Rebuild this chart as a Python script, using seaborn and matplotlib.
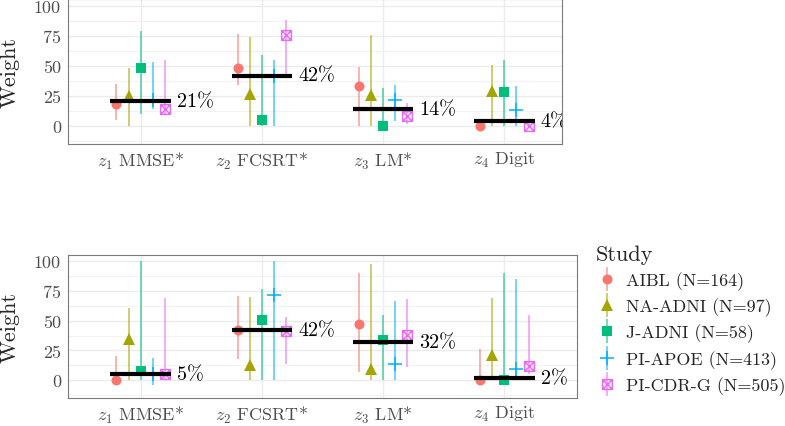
import matplotlib
matplotlib.use("Agg")
import matplotlib.pyplot as plt
import seaborn as sns
import numpy as np
import pandas as pd
from matplotlib.path import Path
from matplotlib.lines import Line2D
from matplotlib.legend_handler import HandlerTuple
from matplotlib.ticker import MultipleLocator

categories = ["$z_1$ MMSE*", "$z_2$ FCSRT*", "$z_3$ LM*", "$z_4$ Digit"]
studies = ["AIBL (N=164)", "NA-ADNI (N=97)", "J-ADNI (N=58)",
           "PI-APOE (N=413)", "PI-CDR-G (N=505)"]

# top panel: estimate, lower, upper per study (one value per category)
top_est = {"AIBL (N=164)": [18, 48, 33, 0],
           "NA-ADNI (N=97)": [25, 27, 26, 29],
           "J-ADNI (N=58)": [48, 5, 0, 28],
           "PI-APOE (N=413)": [22, 42, 22, 13],
           "PI-CDR-G (N=505)": [14, 76, 8, 0]}
top_lo = {"AIBL (N=164)": [5, 34, 0, 0],
          "NA-ADNI (N=97)": [0, 0, 0, 0],
          "J-ADNI (N=58)": [10, 0, 0, 0],
          "PI-APOE (N=413)": [14, 0, 4, 0],
          "PI-CDR-G (N=505)": [10, 43, 2, 0]}
top_hi = {"AIBL (N=164)": [35, 77, 49, 0],
          "NA-ADNI (N=97)": [48, 74, 76, 51],
          "J-ADNI (N=58)": [79, 59, 32, 55],
          "PI-APOE (N=413)": [53, 55, 34, 33],
          "PI-CDR-G (N=505)": [55, 88, 19, 4]}
top_mean = [21, 42, 14, 4]

# bottom panel
bot_est = {"AIBL (N=164)": [0, 42, 47, 0],
           "NA-ADNI (N=97)": [35, 13, 9, 21],
           "J-ADNI (N=58)": [8, 51, 34, 0],
           "PI-APOE (N=413)": [5, 72, 14, 9],
           "PI-CDR-G (N=505)": [5, 41, 38, 12]}
bot_lo = {"AIBL (N=164)": [0, 18, 7, 0],
          "NA-ADNI (N=97)": [0, 0, 0, 0],
          "J-ADNI (N=58)": [0, 0, 0, 0],
          "PI-APOE (N=413)": [-4, 0, 0, 0],
          "PI-CDR-G (N=505)": [0, 14, 11, 5]}
bot_hi = {"AIBL (N=164)": [20, 71, 90, 26],
          "NA-ADNI (N=97)": [61, 70, 98, 69],
          "J-ADNI (N=58)": [100, 77, 55, 90],
          "PI-APOE (N=413)": [19, 100, 67, 85],
          "PI-CDR-G (N=505)": [69, 53, 68, 55]}
bot_mean = [5, 42, 32, 2]

sns.set_theme(style="whitegrid")
plt.rcParams['font.family'] = ['cmr10', 'DejaVu Serif']
plt.rcParams['mathtext.fontset'] = 'cm'
plt.rcParams['axes.unicode_minus'] = False

pal = sns.color_palette(["#F8766D", "#A3A500", "#00BF7D", "#00B0F6", "#E76BF3"])
# square with a cross inside (ggplot shape 7)
boxx = Path([(-1, -1), (1, -1), (1, 1), (-1, 1), (-1, -1), (-1, -1), (1, 1), (-1, 1), (1, -1)],
            [Path.MOVETO, Path.LINETO, Path.LINETO, Path.LINETO, Path.LINETO,
             Path.MOVETO, Path.LINETO, Path.MOVETO, Path.LINETO])
markers = ['o', '^', 's', '+', boxx]
msizes = [7.2, 8.6, 6.6, 9.5, 7.0]


def long_df(est, lo, hi):
    rows = []
    for s in studies:
        for c, e, l, h in zip(categories, est[s], lo[s], hi[s]):
            rows.append(dict(study=s, cat=c, est=e, lo=l, hi=h))
    df = pd.DataFrame(rows)
    df['x'] = df.cat.map({c: i for i, c in enumerate(categories)}) + \
        (df.study.map({s: i for i, s in enumerate(studies)}) - 2) * 0.1
    return df


def panel(ax, df, means, xmax, ymax):
    for i, s in enumerate(studies):
        d = df[df.study == s]
        ax.vlines(d.x, d.lo, d.hi, color=pal[i], alpha=0.7, lw=1.1, zorder=3)
        filled = i not in (3, 4)
        ax.plot(d.x, d.est, ls='', marker=markers[i], ms=msizes[i],
                color=pal[i], mfc=pal[i] if filled else 'none',
                mec=pal[i], mew=0 if filled else 1.1, zorder=4)
    xs = np.arange(len(categories))
    ax.hlines(means, xs - 0.25, xs + 0.25, color='black', lw=3, zorder=5)
    for x, m in zip(xs, means):
        ax.text(x + 0.3, m, f"{m}%", fontsize=14.5, va='center', ha='left',
                color='black', clip_on=True, zorder=6)
    ax.set_xlim(-0.6, xmax)
    ax.set_ylim(-15, ymax)
    ax.set_xticks(xs)
    ax.set_xticklabels(categories)
    ax.set_yticks([0, 25, 50, 75, 100])
    ax.yaxis.set_minor_locator(MultipleLocator(12.5))
    ax.grid(True, which='major', color='#EBEBEB', lw=1.0)
    ax.grid(True, which='minor', axis='y', color='#F2F2F2', lw=0.8)
    ax.set_facecolor('white')
    for sp in ax.spines.values():
        sp.set_color('#7a7a7a')
        sp.set_linewidth(0.8)
    ax.tick_params(axis='both', which='major', length=3, width=0.7,
                   color='#333333', labelcolor='#4D4D4D', labelsize=13, pad=2)
    ax.tick_params(axis='x', which='major', pad=1.5)
    ax.tick_params(axis='both', which='minor', length=0)
    ax.set_xlabel("")
    ax.set_ylabel("")


W, H = 785, 427
fig = plt.figure(figsize=(W / 100, H / 100), dpi=100)
ax1 = fig.add_axes([68 / W, 1 - 145 / H, (562 - 68) / W, 145 / H])
ax2 = fig.add_axes([68 / W, 1 - 399 / H, (577 - 68) / W, 143 / H])

panel(ax1, long_df(top_est, top_lo, top_hi), top_mean, 3.476, 105.8)
panel(ax2, long_df(bot_est, bot_lo, bot_hi), bot_mean, 3.6, 105.3)
fig.text(10 / W, 1 - 73 / H, "Weight", rotation=90, ha='center', va='center', fontsize=16)
fig.text(10 / W, 1 - 328 / H, "Weight", rotation=90, ha='center', va='center', fontsize=16)

handles = []
for i, s in enumerate(studies):
    filled = i not in (3, 4)
    vl = Line2D([], [], ls='', marker='|', ms=17, mew=1.1, color=pal[i], alpha=0.7)
    mk = Line2D([], [], ls='', marker=markers[i], ms=msizes[i], color=pal[i],
                mfc=pal[i] if filled else 'none', mec=pal[i],
                mew=0 if filled else 1.1)
    handles.append((vl, mk))
leg = fig.legend(handles, studies, title="Study", loc='upper left',
                 bbox_to_anchor=(596 / W, 1 - 245 / H), frameon=False,
                 handler_map={tuple: HandlerTuple(ndivide=1)},
                 fontsize=13, title_fontsize=16, handlelength=1.2,
                 handletextpad=0.45, labelspacing=0.42, borderpad=0,
                 borderaxespad=0)
leg._legend_box.align = "left"

fig.savefig("out.png", dpi=100)
